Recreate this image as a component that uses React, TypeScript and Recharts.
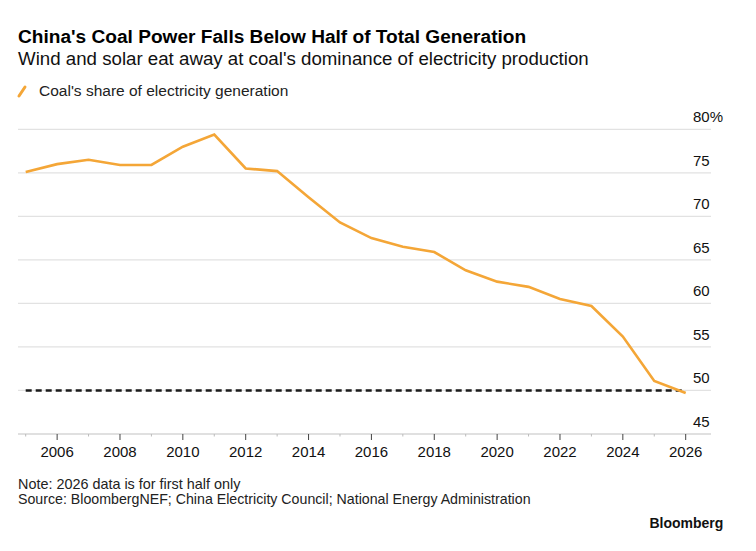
import React from 'react';
import { LineChart, Line, XAxis, YAxis, CartesianGrid, ReferenceLine } from 'recharts';

const years = [
  2005, 2006, 2007, 2008, 2009, 2010, 2011, 2012, 2013, 2014, 2015,
  2016, 2017, 2018, 2019, 2020, 2021, 2022, 2023, 2024, 2025, 2026,
];
const coalShare = [
  75.1, 76.0, 76.5, 75.9, 75.9, 78.0, 79.4, 75.5, 75.2, 72.2, 69.3,
  67.5, 66.5, 65.9, 63.8, 62.5, 61.9, 60.5, 59.7, 56.2, 51.1, 49.7,
];
const yTicks = [45, 50, 55, 60, 65, 70, 75, 80];
const halfLine = 50;

const data = years.map((year, i) => ({ year, share: coalShare[i] }));

const W = 756;
const H = 551;
const PLOT_LEFT = 18;
const PLOT_RIGHT = 711;
const PLOT_TOP = 129.3;
const PLOT_BOTTOM = 434;
const FONT = '"Liberation Sans", Arial, Helvetica, sans-serif';
const ORANGE = '#f4a637';

function YTick(props: any) {
  const { y, payload } = props;
  const label = payload.value === 80 ? '80%' : String(payload.value);
  return (
    <text x={PLOT_RIGHT - 18} y={y - 7.3} fontSize={15} fill="#111" fontFamily={FONT} textAnchor="start">
      {label}
    </text>
  );
}

function XTick(props: any) {
  const { x, payload } = props;
  const even = payload.value % 2 === 0;
  return (
    <g>
      <line x1={x} x2={x} y1={PLOT_BOTTOM} y2={PLOT_BOTTOM + (even ? 6 : 2.5)} stroke={even ? '#444' : '#bbb'} strokeWidth={1} />
      {even && (
        <text x={x} y={PLOT_BOTTOM + 22.7} fontSize={15} fill="#111" fontFamily={FONT} textAnchor="middle">
          {payload.value}
        </text>
      )}
    </g>
  );
}

export default function App() {
  return (
    <div style={{ position: 'absolute', left: 0, top: 0, width: W, height: H, background: '#fff' }}>
      <LineChart
        width={W}
        height={H}
        data={data}
        margin={{ top: PLOT_TOP, left: PLOT_LEFT, right: 0, bottom: 0 }}
      >
        <CartesianGrid vertical={false} stroke="#e2e2e2" strokeWidth={1.2} />
        <XAxis
          dataKey="year"
          type="number"
          domain={[2005, 2026]}
          ticks={years}
          interval={0}
          padding={{ left: 7.7, right: 25.3 }}
          height={H - PLOT_BOTTOM}
          axisLine={{ stroke: '#cfcfcf', strokeWidth: 1.2 }}
          tickLine={false}
          tick={(p: any) => <XTick {...p} />}
        />
        <YAxis
          orientation="right"
          domain={[45, 80]}
          ticks={yTicks}
          width={W - PLOT_RIGHT}
          axisLine={false}
          tickLine={false}
          tick={(p: any) => <YTick {...p} />}
        />
        <ReferenceLine
          segment={[{ x: 2005, y: halfLine }, { x: 2026, y: halfLine }]}
          stroke="#1a1a1a"
          strokeWidth={2.4}
          strokeDasharray="6 4"
        />
        <Line
          type="linear"
          dataKey="share"
          stroke={ORANGE}
          strokeWidth={2.6}
          dot={false}
          isAnimationActive={false}
        />
      </LineChart>
      <svg width={W} height={H} style={{ position: 'absolute', left: 0, top: 0, pointerEvents: 'none' }}>
        <text x={18} y={42.7} fontSize={19.1} fontWeight={700} fill="#000" fontFamily={FONT}>
          China's Coal Power Falls Below Half of Total Generation
        </text>
        <text x={18} y={65} fontSize={18.7} fill="#111" fontFamily={FONT}>
          Wind and solar eat away at coal's dominance of electricity production
        </text>
        <line x1={19} y1={96} x2={25} y2={87} stroke={ORANGE} strokeWidth={3} strokeLinecap="round" />
        <text x={39} y={96} fontSize={15.5} fill="#222" fontFamily={FONT}>
          Coal's share of electricity generation
        </text>
        <text x={18} y={489.3} fontSize={14.4} fill="#222" fontFamily={FONT}>
          Note: 2026 data is for first half only
        </text>
        <text x={18} y={504.3} fontSize={14.2} fill="#222" fontFamily={FONT}>
          Source: BloombergNEF; China Electricity Council; National Energy Administration
        </text>
        <text x={723.3} y={528.3} fontSize={14} fontWeight={700} fill="#111" fontFamily={FONT} textAnchor="end">
          Bloomberg
        </text>
      </svg>
    </div>
  );
}
